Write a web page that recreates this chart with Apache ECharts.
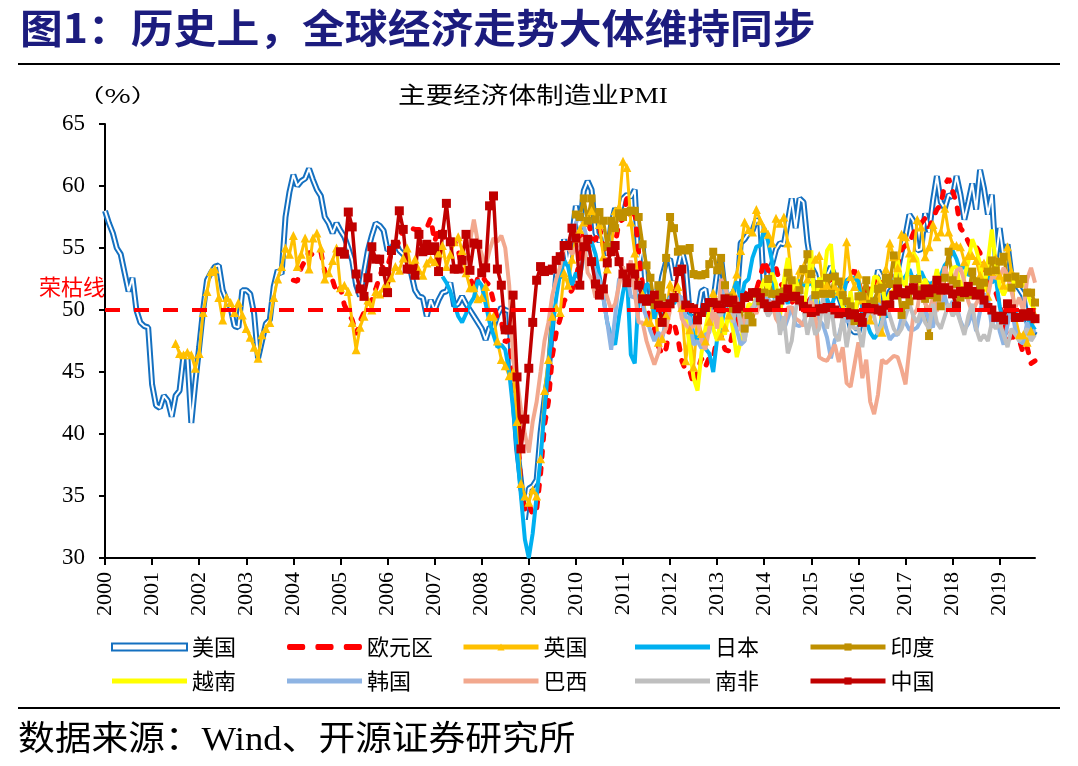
<!DOCTYPE html>
<html>
<head>
<meta charset="utf-8">
<script src="https://cdn.jsdelivr.net/npm/echarts@6/dist/echarts.min.js"></script>
<style>
  html, body { margin: 0; padding: 0; background: #ffffff; }
  #chart { width: 1078px; height: 766px; }
</style>
</head>
<body>
<div id="chart"></div>
<script>
// ---------- categories (monthly, 2000-01 .. 2019-10) ----------
const months = [];
for (let y = 2000; y <= 2019; y++) {
  for (let m = 1; m <= 12; m++) {
    if (y === 2019 && m > 10) break;
    months.push(y + '-' + String(m).padStart(2, '0'));
  }
}
const yTicks = [30, 35, 40, 45, 50, 55, 60, 65];
const boomBust = 50;

// ---------- series values ----------
const usStart = '2000-01';
const usPMI = [
  58.0, 57.0, 56.2, 55.0, 54.5, 53.0, 51.5, 52.6, 50.0, 49.0, 48.7, 48.6,
  44.0, 42.3, 42.1, 43.1, 42.7, 41.4, 43.1, 43.5, 46.3, 46.2, 40.9, 44.1,
  47.0, 50.0, 52.4, 53.0, 53.5, 53.6, 51.6, 50.8, 50.2, 48.7, 48.6, 51.6,
  51.6, 51.3, 49.7, 46.1, 47.5, 48.9, 49.2, 51.9, 53.2, 52.9, 57.5, 59.5,
  60.9, 60.0, 60.4, 60.6, 61.4, 60.5, 59.7, 59.2, 57.5, 57.0, 56.2, 57.0,
  56.4, 55.9, 55.0, 54.0, 52.0, 51.1, 53.0, 54.8, 56.0, 57.0, 56.8, 56.4,
  54.8, 55.0, 55.5, 54.8, 54.5, 54.0, 53.0, 51.6, 51.1, 51.0, 49.5, 50.8,
  50.0, 50.8, 51.4, 51.5, 52.2, 50.3, 50.5, 51.1, 50.5, 50.0, 49.5, 49.0,
  48.5, 47.6, 48.6, 48.6, 49.6, 50.2, 50.0, 49.9, 43.5, 38.9, 36.2, 33.1,
  35.6, 35.8, 36.3, 40.1, 42.8, 44.8, 48.9, 52.9, 52.6, 55.7, 53.6, 55.9,
  58.4, 56.5, 59.6, 60.4, 59.7, 56.2, 55.5, 56.3, 54.4, 56.9, 58.2, 57.5,
  59.0, 59.3, 59.1, 59.7, 53.5, 55.3, 50.9, 50.6, 51.6, 50.8, 52.7, 53.9,
  54.1, 52.4, 53.4, 54.8, 53.5, 49.7, 49.8, 49.6, 51.5, 51.7, 49.5, 50.7,
  53.1, 54.2, 51.3, 50.7, 49.0, 50.9, 55.4, 55.7, 56.2, 56.4, 57.3, 57.0,
  51.3, 53.2, 53.7, 54.9, 55.4, 55.3, 57.1, 59.0, 56.6, 59.0, 58.7, 55.5,
  53.5, 52.9, 51.5, 51.5, 52.8, 53.5, 52.7, 51.1, 50.2, 50.1, 48.6, 48.2,
  48.2, 49.5, 51.8, 50.8, 51.3, 53.2, 52.6, 49.4, 51.5, 51.9, 53.2, 54.7,
  56.0, 57.7, 57.2, 54.8, 54.9, 57.8, 56.3, 58.8, 60.8, 58.7, 58.2, 59.3,
  59.1, 60.8, 59.3, 57.3, 58.7, 60.2, 58.1, 61.3, 59.8, 57.7, 59.3, 54.1,
  56.6, 54.2, 55.3, 52.8, 52.1, 51.7, 51.2, 49.1, 47.8, 48.3
];

const euroStart = '2004-01';
const euroPMI = [
  52.4, 52.3, 53.4, 54.0, 54.7, 54.4, 54.6, 54.7, 53.1, 52.4, 52.4, 51.4,
  51.8, 50.4, 49.8, 49.2, 48.0, 49.1, 49.8, 50.6, 50.8, 51.7, 52.7, 53.6,
  53.5, 54.6, 55.4, 55.4, 56.6, 56.8, 56.6, 56.5, 56.5, 56.5, 56.6, 57.4,
  55.5, 56.6, 56.4, 55.4, 55.6, 55.6, 54.9, 53.2, 53.2, 52.8, 51.5, 52.6,
  52.8, 52.3, 52.0, 50.7, 49.2, 49.1, 47.4, 47.6, 45.0, 41.1, 35.6, 33.9,
  34.4, 33.5, 33.9, 36.8, 40.7, 42.6, 46.3, 48.2, 49.3, 50.7, 51.2, 51.6,
  52.4, 54.2, 56.6, 57.6, 55.8, 55.6, 56.7, 55.1, 53.7, 54.6, 55.3, 57.1,
  57.3, 59.0, 57.5, 58.0, 54.6, 52.0, 50.4, 49.0, 48.5, 47.1, 46.4, 46.9,
  48.8, 49.0, 47.7, 45.9, 45.1, 45.1, 44.0, 45.1, 46.1, 45.4, 46.2, 46.1,
  47.9, 47.9, 46.8, 46.7, 48.3, 48.8, 50.3, 51.4, 51.1, 51.3, 51.6, 52.7,
  54.0, 53.2, 53.0, 53.4, 52.2, 51.8, 51.8, 50.7, 50.3, 50.6, 50.1, 50.6,
  51.0, 51.0, 52.2, 52.0, 52.2, 52.5, 52.4, 52.3, 52.0, 52.3, 52.8, 53.2,
  52.3, 51.2, 51.6, 51.7, 51.5, 52.8, 52.0, 51.7, 52.6, 53.5, 53.7, 54.9,
  55.2, 55.4, 56.2, 56.7, 57.0, 57.4, 56.6, 57.4, 58.1, 58.5, 60.1, 60.6,
  59.6, 58.6, 56.6, 56.2, 55.5, 54.9, 55.1, 54.6, 53.2, 52.0, 51.8, 51.4,
  50.5, 49.3, 47.5, 47.9, 47.7, 47.6, 46.5, 47.0, 45.7, 45.9
];

const ukStart = '2001-07';
const ukPMI = [
  47.3, 46.5, 46.4, 46.6, 46.4, 45.3,
  46.5, 49.8, 51.5, 53.1, 53.3, 51.0, 49.2, 51.0, 50.6, 49.8, 50.6, 49.6,
  48.5, 47.8, 47.0, 46.1, 48.0, 48.5, 49.0, 51.0, 52.5, 53.5, 55.0, 54.5,
  56.0, 53.5, 54.5, 55.8, 53.3, 55.8, 56.2, 55.0, 52.5, 53.0, 54.0, 55.0,
  51.8, 52.0, 51.5, 49.0, 46.8, 48.6, 49.5, 50.8, 50.0, 51.5, 51.3, 51.8,
  52.0, 52.6, 53.5, 53.2, 54.2, 55.0, 53.4, 54.1, 53.2, 52.8, 53.8, 54.1,
  53.9, 54.6, 55.2, 53.5, 54.5, 55.5, 55.9, 54.8, 53.0, 51.8, 51.8, 50.9,
  51.0, 51.9, 49.5, 49.5, 47.5, 46.0, 45.5, 44.7, 45.0, 41.0, 36.0, 35.0,
  34.5, 35.5, 35.0, 38.0, 43.5, 46.0, 49.5, 50.2, 49.8, 53.0, 52.0, 54.1,
  55.8, 56.5, 57.1, 57.3, 58.0, 57.5, 56.9, 54.3, 53.3, 54.9, 58.0, 58.3,
  62.0, 61.5, 57.1, 54.6, 52.1, 51.3, 49.1, 49.0, 51.1, 47.4, 47.7, 49.6,
  52.1, 51.2, 51.9, 50.2, 45.9, 48.4, 45.4, 49.5, 48.1, 47.5, 49.1, 51.4,
  50.5, 47.9, 48.6, 49.6, 51.5, 52.9, 54.8, 57.1, 56.5, 56.3, 58.1, 57.2,
  56.6, 56.1, 55.4, 57.4, 57.0, 57.5, 55.4, 52.5, 51.6, 53.2, 53.5, 52.5,
  53.1, 54.1, 54.4, 51.9, 52.0, 51.4, 51.9, 51.5, 51.5, 55.5, 52.7, 51.9,
  52.9, 50.8, 51.0, 49.2, 50.1, 52.1, 48.2, 53.3, 55.4, 54.3, 53.4, 56.1,
  55.9, 54.6, 54.2, 57.3, 56.7, 54.3, 55.1, 56.9, 55.9, 56.3, 58.2, 56.3,
  55.3, 55.2, 55.1, 53.9, 54.4, 54.4, 54.0, 52.8, 53.8, 51.1, 53.1, 54.2,
  52.8, 52.0, 55.1, 53.1, 49.4, 48.0, 48.0, 47.4, 48.3, 49.6
];

const japanStart = '2007-03';
const japanPMI = [
  52.7, 52.2, 51.5, 50.5, 49.5, 49.0, 49.7, 50.5, 51.0, 52.4,
  52.0, 50.5, 49.0, 48.0, 47.0, 47.2, 46.8, 45.0, 42.0, 38.5, 35.0, 31.5,
  30.0, 32.0, 35.0, 38.0, 42.0, 45.5, 48.6, 51.0, 53.0, 54.0, 53.5, 52.0,
  53.0, 52.5, 54.5, 55.0, 55.5, 54.5, 52.8, 51.0, 49.0, 47.8, 47.2, 49.5,
  51.4, 52.9, 46.4, 45.7, 51.3, 50.7, 52.1, 51.9, 49.3, 50.6, 49.1, 50.2,
  51.1, 50.5, 51.1, 50.7, 50.8, 49.9, 47.9, 47.7, 48.0, 46.9, 46.5, 45.0,
  47.7, 48.5, 50.4, 51.1, 51.5, 52.3, 50.7, 52.2, 52.5, 54.2, 55.1, 55.2,
  56.6, 55.5, 53.9, 49.4, 49.9, 51.5, 50.5, 52.2, 51.7, 52.4, 52.0, 52.0,
  52.2, 51.6, 50.3, 49.9, 50.9, 50.1, 51.2, 51.7, 51.0, 52.4, 52.6, 52.6,
  52.3, 50.1, 49.1, 48.2, 47.7, 48.1, 49.3, 49.5, 50.4, 51.4, 51.3, 52.4,
  52.7, 53.3, 52.4, 52.7, 53.1, 52.4, 52.1, 52.2, 52.9, 52.8, 53.6, 54.0,
  54.8, 54.1, 53.1, 53.8, 52.8, 53.0, 52.3, 52.5, 52.5, 52.9, 52.2, 52.6,
  50.3, 48.9, 49.2, 50.2, 49.8, 49.3, 49.4, 49.3, 48.9, 48.4
];

const indiaStart = '2010-01';
const indiaPMI = [
  57.7, 57.5, 59.0, 57.2, 59.0, 57.3, 57.9, 57.2, 55.1, 57.2, 56.6, 57.8,
  57.5, 57.9, 58.0, 58.0, 57.5, 55.3, 53.6, 52.6, 50.4, 52.0, 51.0, 54.2,
  57.5, 56.6, 54.7, 54.9, 54.8, 55.0, 52.9, 52.8, 52.8, 52.9, 53.7, 54.7,
  53.2, 54.2, 52.0, 51.0, 50.1, 50.3, 50.1, 48.5, 49.6, 49.0, 51.3, 50.7,
  51.4, 52.5, 51.3, 51.3, 51.4, 51.5, 53.0, 52.4, 51.0, 51.6, 53.3, 54.5,
  52.9, 51.2, 52.1, 51.3, 52.6, 51.3, 52.7, 52.3, 51.2, 50.7, 50.3, 49.1,
  51.1, 51.1, 52.4, 50.5, 50.7, 51.7, 51.8, 52.6, 52.1, 54.4, 52.3, 49.6,
  50.4, 50.7, 52.5, 52.5, 51.6, 50.9, 47.9, 51.2, 51.0, 50.3, 52.6, 54.7,
  52.4, 52.1, 51.0, 51.6, 51.2, 53.1, 52.3, 51.7, 52.2, 53.1, 54.0, 53.2,
  53.9, 54.3, 52.6, 51.8, 52.7, 52.1, 52.5, 51.4, 51.4, 50.6
];

const vietnamStart = '2012-05';
const vietnamPMI = [
  49.5, 47.0, 44.5, 43.5, 46.5, 48.5, 50.0, 48.5,
  47.5, 49.5, 48.0, 50.0, 48.5, 46.2, 47.5, 49.0, 50.5, 50.3, 51.0, 51.5,
  52.5, 51.6, 53.0, 52.1, 49.5, 52.4, 54.2, 51.3, 52.5, 51.4, 50.0, 52.1,
  54.8, 49.0, 52.6, 52.0, 54.8, 55.3, 51.7, 51.3, 50.3, 49.5, 51.5, 49.4,
  51.4, 51.1, 50.0, 50.7, 52.7, 52.6, 51.8, 50.5, 51.3, 51.6, 54.0, 52.4,
  51.9, 54.2, 54.6, 54.1, 51.6, 52.5, 51.7, 51.8, 53.3, 51.6, 53.4, 52.5,
  53.4, 53.5, 51.6, 52.7, 53.9, 55.7, 54.9, 53.7, 51.5, 53.9, 56.5, 53.8,
  51.9, 51.2, 51.9, 52.5, 52.0, 52.5, 52.6, 51.4, 50.5, 50.0
];

const koreaStart = '2009-12';
const koreaPMI = [
  55.5,
  57.0, 57.8, 56.8, 55.5, 54.0, 53.0, 52.4, 51.0, 49.0, 46.8, 49.5, 52.5,
  52.6, 53.0, 51.1, 51.0, 52.4, 50.3, 49.4, 48.3, 47.5, 48.2, 47.7, 49.2,
  51.0, 51.2, 51.2, 51.0, 49.4, 49.4, 47.2, 47.5, 46.9, 48.0, 48.2, 50.1,
  50.2, 49.9, 52.0, 51.1, 49.4, 48.4, 47.2, 47.5, 49.7, 50.2, 50.4, 50.8,
  50.9, 50.9, 50.4, 50.2, 49.5, 48.4, 49.3, 50.3, 48.8, 48.7, 49.0, 49.9,
  51.1, 51.1, 49.2, 48.8, 47.8, 46.1, 47.6, 47.9, 49.2, 49.1, 49.1, 49.5,
  49.5, 48.7, 49.5, 50.0, 50.1, 50.5, 50.1, 48.6, 47.6, 48.0, 48.0, 49.4,
  49.0, 48.4, 48.4, 48.6, 49.2, 50.1, 49.1, 48.6, 50.6, 50.2, 51.2, 49.9,
  50.7, 50.3, 49.1, 48.4, 48.9, 49.8, 48.3, 49.9, 51.3, 51.0, 48.6, 49.8,
  48.3, 47.2, 48.8, 50.2, 48.4, 47.5, 47.3, 49.0, 48.0, 48.4
];

const brazilStart = '2007-09';
const brazilPMI = [
  54.0, 55.5, 57.3, 55.5,
  54.5, 53.5, 54.8, 55.8, 55.5, 56.0, 55.0, 52.0, 46.0, 44.4, 42.0, 40.0,
  38.5, 41.0, 42.6, 45.0, 47.5, 49.0, 51.2, 52.5, 53.5, 55.0, 55.0, 54.5,
  55.0, 55.5, 55.8, 53.0, 52.5, 51.0, 51.5, 52.0, 51.0, 50.0, 50.5, 52.0,
  53.5, 52.5, 54.0, 51.5, 49.0, 49.0, 47.5, 46.5, 45.6, 46.5, 48.0, 48.5,
  50.0, 51.4, 51.1, 49.3, 48.8, 48.5, 48.7, 49.3, 47.5, 46.8, 48.5, 50.0,
  48.5, 52.5, 51.8, 50.8, 50.4, 51.0, 48.3, 49.4, 49.9, 50.2, 49.7, 50.5,
  50.8, 50.4, 50.6, 49.3, 48.8, 48.7, 50.2, 50.2, 49.3, 49.1, 48.7, 50.2,
  50.7, 49.6, 46.2, 46.0, 45.9, 46.5, 47.2, 45.8, 47.0, 44.1, 43.8, 45.6,
  47.4, 44.5, 46.0, 42.6, 41.6, 43.2, 46.0, 45.7, 46.0, 46.3, 46.2, 45.2,
  44.0, 46.9, 49.6, 50.1, 52.0, 50.5, 50.0, 50.9, 49.9, 51.2, 53.5, 52.4,
  51.2, 53.2, 53.4, 52.3, 50.7, 49.8, 50.5, 51.1, 50.9, 51.1, 52.7, 52.6,
  52.7, 53.4, 52.8, 51.5, 50.2, 51.0, 49.9, 52.5, 53.4, 52.2
];

const saStart = '2013-01';
const saPMI = [
  50.0, 49.5, 51.0, 50.5, 49.0, 50.5, 49.0, 47.5, 49.5, 50.0, 51.0, 50.5,
  50.2, 49.5, 50.0, 51.0, 48.0, 49.5, 46.5, 47.5, 50.0, 51.5, 50.0, 48.0,
  49.5, 48.0, 48.5, 51.0, 48.5, 50.5, 48.0, 47.5, 49.5, 47.0, 49.0, 48.5,
  48.5, 47.0, 49.5, 50.0, 49.5, 48.0, 49.0, 50.5, 49.5, 48.5, 48.0, 48.5,
  49.5, 50.5, 49.5, 49.0, 50.0, 49.0, 48.5, 50.5, 49.0, 48.5, 49.5, 50.5,
  49.5, 50.0, 49.0, 48.0, 49.5, 50.5, 48.5, 47.5, 48.0, 47.5, 49.0, 48.5,
  49.0, 48.0, 47.0, 48.5, 48.0, 47.5, 48.0, 48.5, 47.5, 48.0
];

const chinaStart = '2005-01';
const chinaPMI = [
  54.7, 54.5, 57.9, 56.7, 52.9, 51.7, 51.1, 52.6, 55.1, 54.1, 54.1, 53.1,
  51.4, 54.8, 55.3, 58.0, 56.5, 53.3, 53.3, 52.8, 56.1, 54.7, 55.3, 54.8,
  55.1, 53.1, 56.1, 58.6, 55.5, 53.3, 53.3, 54.0, 56.1, 53.2, 55.4, 55.3,
  53.0, 53.4, 58.4, 59.2, 53.3, 52.0, 48.4, 48.4, 51.2, 44.6, 38.8, 41.2,
  45.3, 49.0, 52.4, 53.5, 53.1, 53.2, 53.3, 54.0, 54.3, 55.2, 55.2, 56.6,
  55.8, 52.0, 55.1, 55.7, 53.9, 52.1, 51.2, 51.7, 53.8, 54.7, 55.2, 53.9,
  52.9, 52.2, 53.4, 52.9, 52.0, 50.9, 50.7, 50.9, 51.2, 50.4, 49.0, 50.3,
  50.5, 51.0, 53.1, 53.3, 50.4, 50.2, 50.1, 49.2, 49.8, 50.2, 50.6, 50.6,
  50.4, 50.1, 50.9, 50.6, 50.8, 50.1, 50.3, 51.0, 51.1, 51.4, 51.4, 51.0,
  50.5, 50.2, 50.3, 50.4, 50.8, 51.0, 51.7, 51.1, 51.1, 50.8, 50.3, 50.1,
  49.8, 49.9, 50.1, 50.1, 50.2, 50.2, 50.0, 49.7, 49.8, 49.8, 49.6, 49.7,
  49.4, 49.0, 50.2, 50.1, 50.1, 50.0, 49.9, 50.4, 50.4, 51.2, 51.7, 51.4,
  51.3, 51.6, 51.8, 51.2, 51.2, 51.7, 51.4, 51.7, 52.4, 51.6, 51.8, 51.6,
  51.3, 50.3, 51.5, 51.4, 51.9, 51.5, 51.2, 51.3, 50.8, 50.2, 50.0, 49.4,
  49.5, 49.2, 50.5, 50.1, 49.4, 49.4, 49.7, 49.5, 49.8, 49.3
];

// ---------- helpers ----------
function pad(start, vals) {
  const i0 = months.indexOf(start);
  return months.map((_, i) => (i >= i0 && i - i0 < vals.length) ? vals[i - i0] : null);
}

const SERIF = "'Liberation Serif', 'Noto Sans CJK SC', serif";
const CJK = "'Noto Sans CJK SC', 'Liberation Serif', sans-serif";

const COL = {
  us: '#1470C0', euro: '#FF0000', uk: '#FFC000', japan: '#00B0F0', india: '#BF9000',
  vietnam: '#FFFF00', korea: '#8EB4E3', brazil: '#F2A88E', sa: '#BFBFBF', china: '#C00000'
};

function plain(name, data, color, width, extra) {
  return Object.assign({
    name: name, type: 'line', data: data, symbol: 'none', showSymbol: false,
    connectNulls: false, animation: false,
    lineStyle: { color: color, width: width }, itemStyle: { color: color }
  }, extra || {});
}
function marked(name, data, color, width, symbol, size) {
  return {
    name: name, type: 'line', data: data, symbol: symbol, symbolSize: size,
    showSymbol: true, showAllSymbol: true, connectNulls: false, animation: false,
    lineStyle: { color: color, width: width }, itemStyle: { color: color }
  };
}

const series = [
  plain('美国', pad(usStart, usPMI), COL.us, 6),
  plain('美国_内线', pad(usStart, usPMI), '#FFFFFF', 2, { silent: true }),
  plain('欧元区', pad(euroStart, euroPMI), COL.euro, 5,
        { lineStyle: { color: COL.euro, width: 5, type: [6, 11], cap: 'round' } }),
  marked('英国', pad(ukStart, ukPMI), COL.uk, 3, 'triangle', 9),
  plain('日本', pad(japanStart, japanPMI), COL.japan, 4),
  marked('印度', pad(indiaStart, indiaPMI), COL.india, 3.5, 'rect', 8),
  plain('越南', pad(vietnamStart, vietnamPMI), COL.vietnam, 4),
  plain('韩国', pad(koreaStart, koreaPMI), COL.korea, 4),
  plain('巴西', pad(brazilStart, brazilPMI), COL.brazil, 4),
  plain('南非', pad(saStart, saPMI), COL.sa, 4),
  marked('中国', pad(chinaStart, chinaPMI), COL.china, 3.5, 'rect', 9)
];
series[series.length - 1].markLine = {
  silent: true, symbol: 'none', animation: false,
  label: { show: false },
  lineStyle: { color: '#FF0000', type: [15, 14], width: 4 },
  data: [{ yAxis: boomBust }]
};

// legend icons
const ICON_LINE = 'path://M0,0H75V5H0Z';
const ICON_US = 'path://M0,0H75V7H0Z';
const ICON_EURO = 'path://M2,0H16A2,3 0 0 1 16,6H2A2,3 0 0 1 2,0Z M30,0H44A2,3 0 0 1 44,6H30A2,3 0 0 1 30,0Z M58,0H72A2,3 0 0 1 72,6H58A2,3 0 0 1 58,0Z';
const plainItem = (n) => ({ name: n, icon: ICON_LINE });
const markItem = (n) => ({ name: n, lineStyle: { width: 5 } });

const legendCols = [
  [{ name: '美国', icon: ICON_US, itemStyle: { color: '#FFFFFF', borderColor: COL.us, borderWidth: 2 } }, plainItem('越南')],
  [{ name: '欧元区', icon: ICON_EURO }, plainItem('韩国')],
  [markItem('英国'), plainItem('巴西')],
  [plainItem('日本'), plainItem('南非')],
  [markItem('印度'), markItem('中国')]
];
const legendLefts = [111, 287, 461, 635, 808];
const legends = legendCols.map((d, i) => ({
  orient: 'vertical', left: legendLefts[i], top: 636, padding: 0,
  itemWidth: 75, itemHeight: 9, itemGap: 12, selectedMode: false,
  textStyle: { fontSize: 22, fontFamily: CJK, color: '#000' },
  data: d
}));

const chart = echarts.init(document.getElementById('chart'), null, { renderer: 'canvas' });
const option = {
  backgroundColor: '#FFFFFF',
  animation: false,
  grid: { left: 105, right: 43, top: 124, bottom: 208, containLabel: false },
  xAxis: {
    type: 'category', data: months, boundaryGap: false,
    axisLine: { lineStyle: { color: '#000', width: 2 } },
    axisTick: { show: true, length: 7, interval: (i) => i % 12 === 0, lineStyle: { color: '#000', width: 2 } },
    axisLabel: {
      interval: (i) => i % 12 === 0, rotate: 90, margin: 14,
      formatter: (v) => v.slice(0, 4),
      fontSize: 22, fontFamily: SERIF, color: '#000'
    },
    splitLine: { show: false }
  },
  yAxis: {
    type: 'value', min: yTicks[0], max: yTicks[yTicks.length - 1], interval: 5,
    axisLine: { show: true, lineStyle: { color: '#000', width: 2 } },
    axisTick: { show: true, length: 6, lineStyle: { color: '#000', width: 2 } },
    axisLabel: { margin: 20, fontSize: 23, fontFamily: SERIF, color: '#000' },
    splitLine: { show: false }
  },
  legend: legends,
  series: series,
  graphic: [
    { type: 'text', x: 20, y: 28, scaleX: 1.07,
      style: { text: '图1：历史上，全球经济走势大体维持同步', fontSize: 40, fontWeight: 'bold',
               fontFamily: CJK, fill: '#1C1C7E', textVerticalAlign: 'middle' } },
    { type: 'line', shape: { x1: 18, y1: 64, x2: 1060, y2: 64 }, style: { stroke: '#000', lineWidth: 2 } },
    { type: 'text', x: 76, y: 96, scaleX: 1.5,
      style: { text: '（%）', fontSize: 19, fontFamily: CJK, fill: '#000', textVerticalAlign: 'middle' } },
    { type: 'text', x: 533, y: 97, scaleX: 1.2,
      style: { text: '主要经济体制造业PMI', fontSize: 23, fontFamily: SERIF, fill: '#000',
               textAlign: 'center', textVerticalAlign: 'middle' } },
    { type: 'line', shape: { x1: 18, y1: 708, x2: 1060, y2: 708 }, style: { stroke: '#000', lineWidth: 2 } },
    { type: 'text', x: 18, y: 741, scaleX: 1.08,
      style: { text: '数据来源：Wind、开源证券研究所', fontSize: 34, fontFamily: SERIF, fill: '#000',
               textVerticalAlign: 'middle' } }
  ]
};
chart.setOption(option);

// label of the boom-bust line, placed through the y axis scale
const yLine = chart.convertToPixel({ yAxisIndex: 0 }, boomBust);
const gridLeft = chart.convertToPixel({ xAxisIndex: 0 }, months[0]);
option.graphic.push({
  type: 'text', x: gridLeft, y: yLine - 23,
  style: { text: '荣枯线', fontSize: 22, fontFamily: CJK, fill: '#FF0000',
           textAlign: 'right', textVerticalAlign: 'middle' }
});
chart.setOption({ graphic: option.graphic });
</script>
</body>
</html>
